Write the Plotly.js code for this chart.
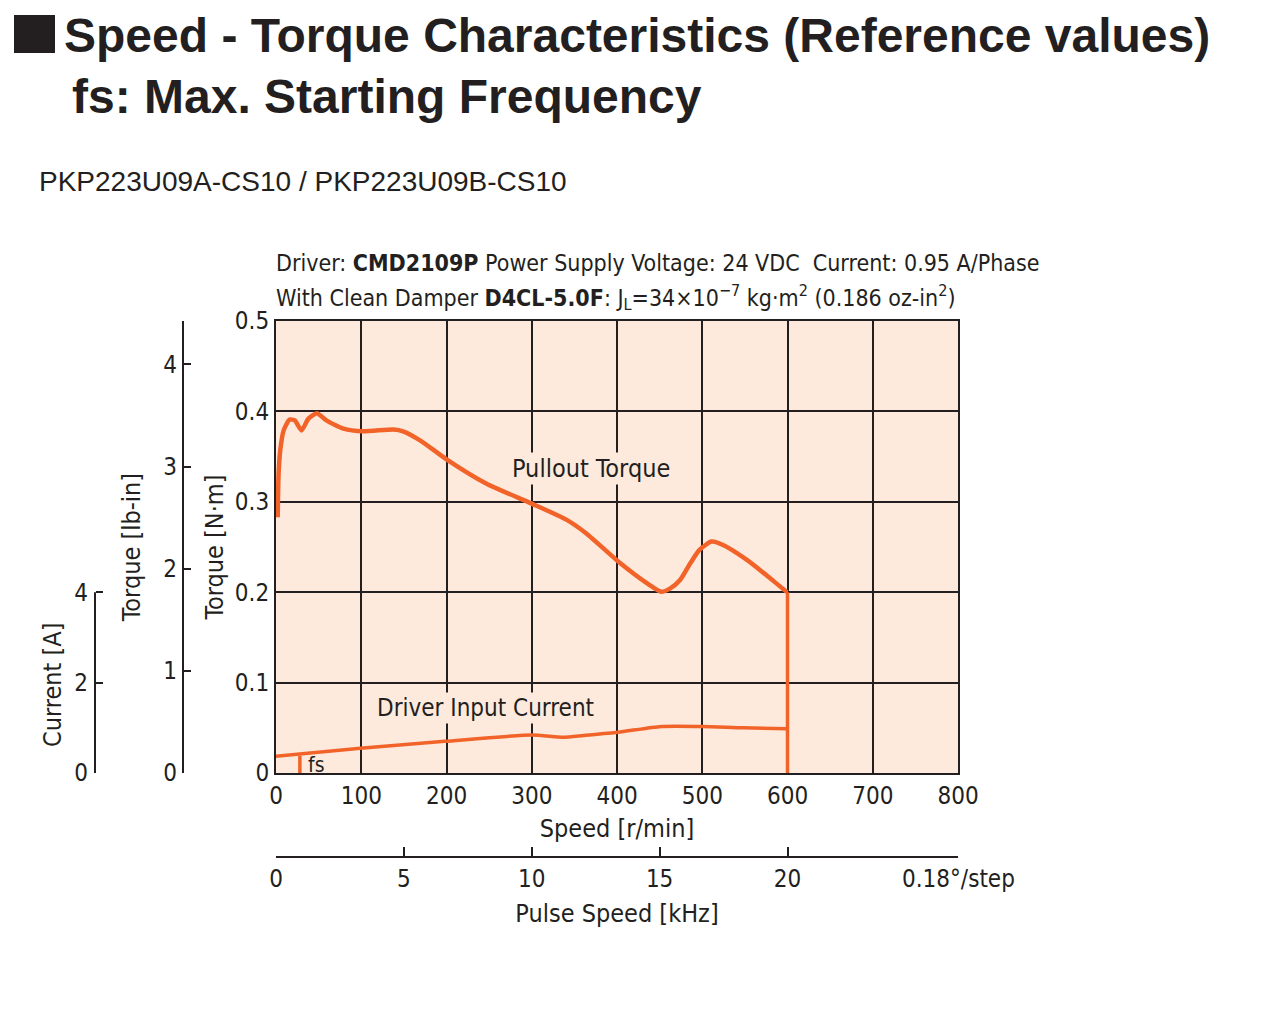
<!DOCTYPE html>
<html>
<head>
<meta charset="utf-8">
<script src="https://cdn.plot.ly/plotly-3.0.1.min.js"></script>
<style>
  html, body { margin: 0; padding: 0; background: #ffffff; }
  #chart { width: 1280px; height: 1032px; }
</style>
</head>
<body>
<div id="chart"></div>
<script>
// ---- data ----
const torqueSpeed = [2, 3, 5, 9, 16, 22, 30, 38, 48, 59, 79, 102, 138, 149, 169, 200, 247, 300, 341, 364, 404, 435, 452, 462, 474, 486, 497, 511, 525, 552, 575, 599, 600];
const torqueNm    = [0.283, 0.33, 0.357, 0.379, 0.391, 0.39, 0.379, 0.392, 0.398, 0.39, 0.381, 0.378, 0.380, 0.378, 0.368, 0.347, 0.320, 0.298, 0.280, 0.265, 0.232, 0.21, 0.2005, 0.204, 0.2135, 0.232, 0.247, 0.256, 0.252, 0.236, 0.219, 0.2005, 0.2];
const currentSpeed = [0, 99, 198, 300, 337, 361, 401, 452, 500, 548, 600];
const currentA     = [0.37, 0.55, 0.70, 0.84, 0.79, 0.83, 0.90, 1.03, 1.03, 1.00, 0.98];
const fsSpeed = 28;        // r/min, max. starting frequency
const fsCurrentTop = 0.38; // A, where the fs marker meets the current line
const maxSpeed = 600;      // r/min where the pullout torque drops to zero

const speedTicks  = [0, 100, 200, 300, 400, 500, 600, 700, 800];
const torqueTicks = [0, 0.1, 0.2, 0.3, 0.4, 0.5];
const torqueTickText = ['0', '0.1', '0.2', '0.3', '0.4', '0.5'];
const lbinTicks   = [0, 1, 2, 3, 4];
const currentTicks = [0, 2, 4];
const pulseTicks  = [0, 5, 10, 15, 20];

const NM_PER_LBIN = 0.112985;
const RPM_PER_KHZ = 30;        // 0.18 deg/step
const NM_PER_AMP_SCALE = 0.05; // chart scale: 4 A spans the same height as 0.2 N·m
const currentAxisMax = 4;

// ---- styling ----
const ORANGE = '#f2632a';
const INK = '#231f20';
const BG = '#fdeadd';
const NARROW = '"Liberation Sans Narrow", "DejaVu Sans Condensed", "Arial Narrow", sans-serif';
const SANS = '"Liberation Sans", Arial, sans-serif';

const W = 1280, H = 1032;
const px = x => x / W;
const py = y => 1 - y / H;

const plotL = 276, plotR = 958, plotT = 321, plotB = 773;

const traces = [
  { // pullout torque
    x: torqueSpeed, y: torqueNm, xaxis: 'x', yaxis: 'y',
    mode: 'lines', line: { color: ORANGE, width: 4.5, shape: 'spline', smoothing: 0.6 },
    hoverinfo: 'skip', showlegend: false
  },
  { // drop to zero at max speed
    x: [maxSpeed, maxSpeed], y: [torqueNm[torqueNm.length - 1], 0], xaxis: 'x', yaxis: 'y',
    mode: 'lines', line: { color: ORANGE, width: 3.5 },
    hoverinfo: 'skip', showlegend: false
  },
  { // driver input current
    x: currentSpeed, y: currentA, xaxis: 'x', yaxis: 'y3',
    mode: 'lines', line: { color: ORANGE, width: 3.5, shape: 'spline', smoothing: 0.6 },
    hoverinfo: 'skip', showlegend: false
  },
  { // fs marker
    x: [fsSpeed, fsSpeed], y: [fsCurrentTop, 0], xaxis: 'x', yaxis: 'y3',
    mode: 'lines', line: { color: ORANGE, width: 3.5 },
    hoverinfo: 'skip', showlegend: false
  },
  { // anchor for lb-in axis
    x: [0], y: [0], xaxis: 'x', yaxis: 'y2', mode: 'markers',
    marker: { opacity: 0 }, hoverinfo: 'skip', showlegend: false
  },
  { // anchor for pulse speed axis
    x: [0], y: [0], xaxis: 'x2', yaxis: 'y', mode: 'markers',
    marker: { opacity: 0 }, hoverinfo: 'skip', showlegend: false
  }
];

const tickFont = { family: NARROW, size: 24, color: INK };
const titleFont = { family: NARROW, size: 25, color: INK };

const layout = {
  width: W, height: H,
  margin: { l: 0, r: 0, t: 0, b: 0, pad: 0 },
  paper_bgcolor: '#ffffff',
  plot_bgcolor: BG,
  showlegend: false,
  xaxis: {
    domain: [px(plotL), px(plotR)], anchor: 'y',
    range: [0, 800], tickvals: speedTicks, ticks: '',
    showgrid: true, gridcolor: INK, gridwidth: 2,
    showline: true, linecolor: INK, linewidth: 2, mirror: true,
    zeroline: false, tickfont: tickFont, ticklabelstandoff: 0,
    title: { text: 'Speed [r/min]', font: titleFont, standoff: 11 }
  },
  yaxis: {
    domain: [py(plotB), py(plotT)], anchor: 'x',
    range: [0, 0.5], tickvals: torqueTicks, ticktext: torqueTickText, ticks: '',
    showgrid: true, gridcolor: INK, gridwidth: 2,
    showline: true, linecolor: INK, linewidth: 2, mirror: true,
    zeroline: false, tickfont: tickFont,
    title: { text: 'Torque [N·m]', font: titleFont, standoff: 4 }
  },
  yaxis2: {
    overlaying: 'y', anchor: 'free', position: px(182.7), side: 'left',
    range: [0, 0.5 / NM_PER_LBIN], tickvals: lbinTicks,
    ticks: 'inside', ticklen: 7, tickwidth: 2, tickcolor: INK,
    showgrid: false, zeroline: false,
    showline: true, linecolor: INK, linewidth: 2,
    tickfont: tickFont,
    title: { text: 'Torque [lb-in]', font: titleFont, standoff: 14 }
  },
  yaxis3: {
    overlaying: 'y', anchor: 'free', position: px(95), side: 'left',
    range: [0, 0.5 / NM_PER_AMP_SCALE], tickvals: currentTicks,
    ticks: 'inside', ticklen: 7, tickwidth: 2, tickcolor: INK,
    showgrid: false, zeroline: false, showline: false,
    tickfont: tickFont, ticklabelstandoff: 7
  },
  xaxis2: {
    overlaying: 'x', anchor: 'free', position: py(857), side: 'bottom',
    range: [0, 800 / RPM_PER_KHZ], tickvals: pulseTicks,
    ticks: 'inside', ticklen: 9, tickwidth: 2, tickcolor: INK,
    showgrid: false, zeroline: false,
    showline: true, linecolor: INK, linewidth: 2,
    tickfont: tickFont, ticklabelstandoff: 0,
    title: { text: 'Pulse Speed [kHz]', font: titleFont, standoff: 12 }
  },
  shapes: [
    { type: 'rect', xref: 'paper', yref: 'paper',
      x0: px(14), x1: px(55), y0: py(53), y1: py(15),
      fillcolor: INK, line: { width: 0 } },
    { // current axis line, spanning only 0 .. 4 A
      type: 'line', xref: 'paper', yref: 'y3',
      x0: px(95), x1: px(95), y0: 0, y1: currentAxisMax,
      line: { color: INK, width: 2 } }
  ],
  annotations: [
    { xref: 'paper', yref: 'paper', x: px(62), y: py(36), xanchor: 'left', yanchor: 'middle',
      text: '<b>Speed - Torque Characteristics (Reference values)</b>', showarrow: false,
      font: { family: SANS, size: 48, color: INK } },
    { xref: 'paper', yref: 'paper', x: px(70), y: py(97), xanchor: 'left', yanchor: 'middle',
      text: '<b>fs: Max. Starting Frequency</b>', showarrow: false,
      font: { family: SANS, size: 48, color: INK } },
    { xref: 'paper', yref: 'paper', x: px(37), y: py(182), xanchor: 'left', yanchor: 'middle',
      text: 'PKP223U09A-CS10 / PKP223U09B-CS10', showarrow: false,
      font: { family: SANS, size: 28, color: INK } },
    { xref: 'paper', yref: 'paper', x: px(274), y: py(263), xanchor: 'left', yanchor: 'middle',
      text: 'Driver: <b>CMD2109P</b> Power Supply Voltage: 24 VDC  Current: 0.95 A/Phase', showarrow: false,
      font: { family: NARROW, size: 23, color: INK } },
    { xref: 'paper', yref: 'paper', x: px(274), y: py(297), xanchor: 'left', yanchor: 'middle',
      text: 'With Clean Damper <b>D4CL-5.0F</b>: J<sub>L</sub>=34×10<sup>−7</sup> kg·m<sup>2</sup> (0.186 oz-in<sup>2</sup>)', showarrow: false,
      font: { family: NARROW, size: 23, color: INK } },
    { xref: 'paper', yref: 'paper', x: px(52), y: py(685), xanchor: 'center', yanchor: 'middle',
      text: 'Current [A]', textangle: -90, showarrow: false,
      font: titleFont },
    { xref: 'paper', yref: 'paper', x: px(591), y: py(469), xanchor: 'center', yanchor: 'middle',
      text: 'Pullout Torque', showarrow: false, bgcolor: BG,
      font: { family: NARROW, size: 25, color: INK } },
    { xref: 'paper', yref: 'paper', x: px(485), y: py(708), xanchor: 'center', yanchor: 'middle',
      text: 'Driver Input Current', showarrow: false, bgcolor: BG,
      font: { family: NARROW, size: 24, color: INK } },
    { xref: 'paper', yref: 'paper', x: px(316), y: py(765), xanchor: 'center', yanchor: 'middle',
      text: 'fs', showarrow: false,
      font: { family: NARROW, size: 21, color: INK } },
    { xref: 'paper', yref: 'paper', x: px(958), y: py(879), xanchor: 'center', yanchor: 'middle',
      text: '0.18°/step', showarrow: false,
      font: { family: NARROW, size: 24, color: INK } }
  ]
};

Plotly.newPlot('chart', traces, layout, { staticPlot: true, displayModeBar: false });
</script>
</body>
</html>
